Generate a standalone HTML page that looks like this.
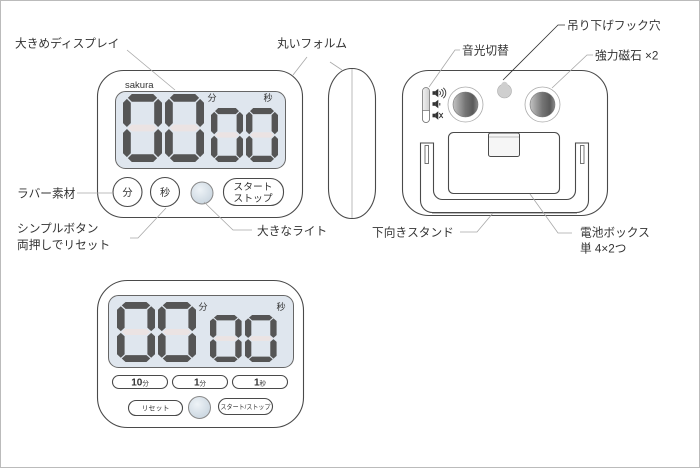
<!DOCTYPE html>
<html><head><meta charset="utf-8">
<style>
html,body{margin:0;padding:0;background:#fff;}
svg{display:block;}
text{font-family:"Liberation Sans","Noto Sans CJK JP",sans-serif;fill:#333;}
.lb{font-size:11.7px;}
.ld{stroke:#a8a8a8;stroke-width:0.8;fill:none;}
.ol{stroke:#4a4a4a;stroke-width:1.1;fill:#fff;}
</style></head><body>
<svg width="700" height="468" viewBox="0 0 700 468" xmlns="http://www.w3.org/2000/svg">
<defs>
<g id="dg">
 <polygon fill="#555" points="5,4 9,0 31,0 35,4 31,8 9,8"/>
 <polygon fill="#ebe3e3" points="5,35 9,31.5 31,31.5 35,35 31,38.5 9,38.5"/>
 <polygon fill="#555" points="5,66 9,62 31,62 35,66 31,70 9,70"/>
 <polygon fill="#555" points="4,5 8,9 8,30 4,34 0,30 0,9"/>
 <polygon fill="#555" points="4,36 8,40 8,61 4,65 0,61 0,40"/>
 <polygon fill="#555" points="36,5 40,9 40,30 36,34 32,30 32,9"/>
 <polygon fill="#555" points="36,36 40,40 40,61 36,65 32,61 32,40"/>
</g>
<linearGradient id="mag" x1="0" y1="0" x2="1" y2="0">
 <stop offset="0" stop-color="#c4c4c4"/>
 <stop offset="0.5" stop-color="#747474"/>
 <stop offset="0.8" stop-color="#5a5a5a"/>
 <stop offset="1" stop-color="#8c8c8c"/>
</linearGradient>
<radialGradient id="lt" cx="0.4" cy="0.35" r="0.7">
 <stop offset="0" stop-color="#eef3f7"/>
 <stop offset="1" stop-color="#c9d5df"/>
</radialGradient>
<linearGradient id="sw" x1="0" y1="0" x2="1" y2="0">
 <stop offset="0" stop-color="#f2f2f2"/>
 <stop offset="1" stop-color="#cfcfcf"/>
</linearGradient>
<g id="spk" fill="#333">
 <rect x="0" y="-1.8" width="2.6" height="3.6"/>
 <polygon points="2.6,-1.8 5.8,-4.2 5.8,4.2 2.6,1.8"/>
</g>
</defs>

<rect x="0.5" y="0.5" width="699" height="467" fill="#fff" stroke="#bbb" stroke-width="1"/>

<!-- ===== Front device (top-left) ===== -->
<rect class="ol" x="97.5" y="70.5" width="205" height="147" rx="26"/>
<rect x="115.5" y="91.5" width="170" height="77" rx="10" fill="#dfe6ee" stroke="#666"/>
<text x="125" y="88" font-size="9.5" fill="#333">sakura</text>
<use href="#dg" transform="translate(123,94) scale(0.975,0.971)"/>
<use href="#dg" transform="translate(165,94) scale(0.975,0.971)"/>
<use href="#dg" transform="translate(211,108) scale(0.8,0.771)"/>
<use href="#dg" transform="translate(246,108) scale(0.8,0.771)"/>
<text x="212" y="101" font-size="9" text-anchor="middle" fill="#666">分</text>
<text x="268" y="101" font-size="9" text-anchor="middle" fill="#666">秒</text>

<circle class="ol" cx="127.5" cy="192" r="14.5"/>
<text x="127.5" y="196" font-size="10" text-anchor="middle">分</text>
<circle class="ol" cx="165" cy="192" r="14.5"/>
<text x="165" y="196" font-size="10" text-anchor="middle">秒</text>
<circle cx="202" cy="193" r="11" fill="url(#lt)" stroke="#888"/>
<rect class="ol" x="223.5" y="178.5" width="60" height="27" rx="13"/>
<text x="253" y="190" font-size="9.8" text-anchor="middle">スタート</text>
<text x="253" y="201.5" font-size="9.8" text-anchor="middle">ストップ</text>

<!-- ===== Side view ===== -->
<rect class="ol" x="328.5" y="68.5" width="47" height="150" rx="23" ry="30"/>
<line x1="352" y1="69" x2="352" y2="218" stroke="#aaa" stroke-width="0.8"/>

<!-- ===== Back device (top-right) ===== -->
<rect class="ol" x="402.5" y="70.5" width="205" height="145" rx="26"/>
<rect x="422.5" y="87.5" width="7" height="35" rx="3.5" fill="url(#sw)" stroke="#777" stroke-width="0.8"/>
<path d="M422.5,110.5 H429.5 V119 A3.5,3.5 0 0 1 422.5,119 Z" fill="#fff" stroke="#777" stroke-width="0.8"/>
<use href="#spk" transform="translate(432.5,93)"/>
<path d="M439.5,91 A2.5,2.5 0 0 1 439.5,95 M441.3,89.3 A4.5,4.5 0 0 1 441.3,96.7 M443.2,87.8 A6.5,6.5 0 0 1 443.2,98.2" stroke="#333" stroke-width="0.9" fill="none"/>
<use href="#spk" transform="translate(432.5,104)"/>
<line x1="439.8" y1="103" x2="439.8" y2="105.5" stroke="#333" stroke-width="1"/>
<use href="#spk" transform="translate(432.5,115.5)"/>
<path d="M439.3,113 L442.8,118 M442.8,113 L439.3,118" stroke="#333" stroke-width="1"/>
<circle cx="465.5" cy="104.5" r="17.5" fill="#fff" stroke="#aaa" stroke-width="0.8"/>
<circle cx="465.5" cy="104.5" r="12.5" fill="url(#mag)" stroke="#777" stroke-width="0.6"/>
<circle cx="542.5" cy="104.5" r="17.5" fill="#fff" stroke="#aaa" stroke-width="0.8"/>
<circle cx="542.5" cy="104.5" r="12.5" fill="url(#mag)" stroke="#777" stroke-width="0.6"/>
<circle cx="504.5" cy="91" r="7" fill="#cfcfcf" stroke="#aaa" stroke-width="0.6"/>
<circle cx="504.5" cy="85" r="3.2" fill="#cfcfcf"/>
<path d="M420.5,143 V200.5 A12,12 0 0 0 432.5,212.5 H576.5 A12,12 0 0 0 588.5,200.5 V143 H575.5 V190.5 A9,9 0 0 1 566.5,199.5 H442.5 A9,9 0 0 1 433.5,190.5 V143 Z" fill="#fff" stroke="#4a4a4a" stroke-width="1.1"/>
<line x1="432" y1="213.5" x2="577" y2="213.5" stroke="#bbb" stroke-width="1"/>
<rect x="425" y="145.5" width="3.5" height="18" fill="#fff" stroke="#555" stroke-width="0.8"/>
<rect x="580.5" y="145.5" width="3.5" height="18" fill="#fff" stroke="#555" stroke-width="0.8"/>
<rect class="ol" x="448.5" y="132.5" width="111" height="61" rx="5"/>
<rect x="488.5" y="133" width="31" height="23.5" rx="2" fill="#f6f6f6" stroke="#4a4a4a" stroke-width="1"/>
<line x1="489" y1="137" x2="519" y2="137" stroke="#888" stroke-width="0.6"/>

<!-- ===== Bottom device ===== -->
<rect class="ol" x="97.5" y="280.5" width="206" height="147" rx="30"/>
<rect x="108.5" y="295.5" width="185" height="72" rx="10" fill="#dfe6ee" stroke="#666"/>
<use href="#dg" transform="translate(117,302) scale(0.95,0.857)"/>
<use href="#dg" transform="translate(158,302) scale(0.95,0.857)"/>
<use href="#dg" transform="translate(210,315) scale(0.79,0.671)"/>
<use href="#dg" transform="translate(245,315) scale(0.79,0.671)"/>
<text x="203" y="310" font-size="9" text-anchor="middle" fill="#666">分</text>
<text x="281" y="310" font-size="9" text-anchor="middle" fill="#666">秒</text>

<rect class="ol" x="112.5" y="375.5" width="55" height="13" rx="6.5"/>
<text x="140" y="385.5" text-anchor="middle" fill="#444"><tspan font-size="10" font-weight="bold">10</tspan><tspan font-size="6.5">分</tspan></text>
<rect class="ol" x="172.5" y="375.5" width="55" height="13" rx="6.5"/>
<text x="200" y="385.5" text-anchor="middle" fill="#444"><tspan font-size="10" font-weight="bold">1</tspan><tspan font-size="6.5">分</tspan></text>
<rect class="ol" x="232.5" y="375.5" width="55" height="13" rx="6.5"/>
<text x="260" y="385.5" text-anchor="middle" fill="#444"><tspan font-size="10" font-weight="bold">1</tspan><tspan font-size="6.5">秒</tspan></text>

<rect class="ol" x="128.5" y="400.5" width="54" height="15" rx="7.5"/>
<text x="155.5" y="410.5" font-size="7" text-anchor="middle" fill="#444">リセット</text>
<circle cx="199.5" cy="407.5" r="11" fill="url(#lt)" stroke="#888"/>
<rect class="ol" x="218.5" y="398.5" width="54" height="16" rx="8"/>
<text x="245.5" y="409" font-size="6.5" text-anchor="middle" textLength="50" lengthAdjust="spacingAndGlyphs" fill="#444">スタート/ストップ</text>

<!-- ===== Leader lines ===== -->
<line class="ld" x1="127" y1="50" x2="175" y2="90"/>
<line class="ld" x1="307" y1="57" x2="293" y2="75"/>
<line class="ld" x1="330" y1="62" x2="342" y2="70"/>
<line class="ld" x1="77" y1="193" x2="113" y2="193"/>
<polyline class="ld" points="130,238 138,238 166,208"/>
<polyline class="ld" points="204,202 233,230 252,230"/>
<polyline class="ld" points="460,50 455,50 429,87"/>
<polyline points="565,25 558,25 503,80" fill="none" stroke="#333" stroke-width="0.8"/>
<polyline class="ld" points="593,55 587,55 552,88"/>
<polyline class="ld" points="460,232 477,232 493,213"/>
<polyline class="ld" points="530,194 558,233 572,233"/>

<!-- ===== Labels ===== -->
<text class="lb" x="15" y="47.5">大きめディスプレイ</text>
<text class="lb" x="277" y="47.5">丸いフォルム</text>
<text class="lb" x="17" y="197.5">ラバー素材</text>
<text class="lb" x="17" y="232.5">シンプルボタン</text>
<text class="lb" x="17" y="249">両押しでリセット</text>
<text class="lb" x="257" y="235">大きなライト</text>
<text class="lb" x="567" y="29.5">吊り下げフック穴</text>
<text class="lb" x="462" y="54.5">音光切替</text>
<text class="lb" x="595" y="59.5">強力磁石 ×2</text>
<text class="lb" x="372" y="236.5">下向きスタンド</text>
<text class="lb" x="580" y="236.5">電池ボックス</text>
<text class="lb" x="580" y="252.5">単 4×2つ</text>
</svg>
</body></html>
